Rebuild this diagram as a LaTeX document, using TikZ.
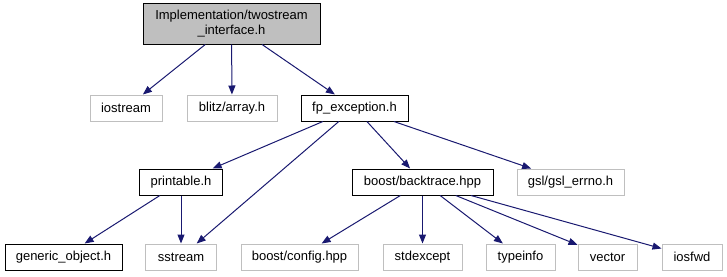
\documentclass[tikz,border=0pt]{standalone}
\usepackage{fontspec}
\setmainfont{Liberation Sans}
\usetikzlibrary{arrows.meta}

\definecolor{edgeblue}{HTML}{191970}
\definecolor{boxgray}{HTML}{BFBFBF}

\tikzset{
  file/.style={draw=black, line width=1pt, minimum height=26pt, inner sep=0pt,
    font=\fontsize{13pt}{15pt}\selectfont},
  extfile/.style={file, draw=boxgray},
  dep/.style={edgeblue, line width=1pt, -{Triangle[length=9pt,width=7pt]}},
}

\begin{document}
\begin{tikzpicture}[x=1pt,y=-1pt]
        \useasboundingbox (0,0) rectangle (727,276);
        % the header itself
        \node[file, fill=boxgray, minimum width=177pt, minimum height=41pt, align=center]
          (root) at (231.5,23.5) {Implementation/twostream\\\_interface.h};
        % headers of this project
        \foreach \name/\x/\y/\w/\txt in {fp/354.5/108/107/fp\_exception.h,
            printable/181/182/83/printable.h,
            backtrace/422.5/182/141/{boost/backtrace.hpp},
            generic/63.5/257/117/generic\_object.h} {
            \node[file, minimum width=\w pt] (\name) at (\x,\y) {\txt};
          }
        % system and library headers
        \foreach \name/\x/\y/\w/\txt in {iostream/126/108/72/iostream,
            blitz/232/108/90/{blitz/array.h},
            gsl/570.5/182/107/{gsl/gsl\_errno.h},
            sstream/181/257/71/sstream,
            config/299.5/257/117/{boost/config.hpp},
            stdexcept/422.5/257/79/stdexcept,
            typeinfo/520.5/257/69/typeinfo,
            vector/607.5/257/59/vector,
            iosfwd/692/257/60/iosfwd} {
            \node[extfile, minimum width=\w pt] (\name) at (\x,\y) {\txt};
          }
        % include edges
        \foreach \a/\b in {root/iostream,root/blitz,root/fp,
            fp/printable,fp/sstream,fp/backtrace,fp/gsl,
            printable/generic,printable/sstream,
            backtrace/config,backtrace/stdexcept,backtrace/typeinfo,
            backtrace/vector,backtrace/iosfwd} {
            \draw[dep] (\a) -- (\b);
          }
      \end{tikzpicture}
\end{document}
